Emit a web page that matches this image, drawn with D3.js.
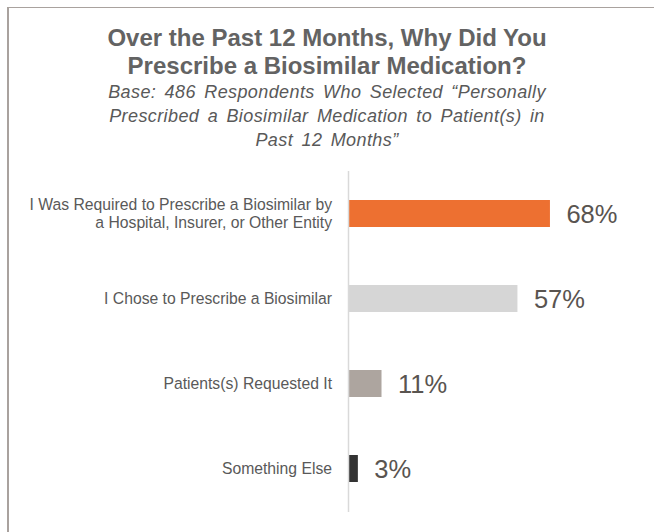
<!DOCTYPE html>
<html>
<head>
<meta charset="utf-8">
<script src="https://cdn.jsdelivr.net/npm/d3@7"></script>
<style>
  html, body { margin: 0; padding: 0; background: #fff; }
  svg { display: block; }
</style>
</head>
<body>
<svg id="chart" width="654" height="532"></svg>
<script>
// Survey answers, in display order
const categories = [
  ["I Was Required to Prescribe a Biosimilar by", "a Hospital, Insurer, or Other Entity"],
  ["I Chose to Prescribe a Biosimilar"],
  ["Patients(s) Requested It"],
  ["Something Else"]
];
const values = [68, 57, 11, 3];
const barColors = ["#ED7031", "#D6D6D6", "#ADA59F", "#333333"];
const titleLines = ["Over the Past 12 Months, Why Did You", "Prescribe a Biosimilar Medication?"];
const subtitleLines = [
  "Base: 486 Respondents Who Selected \u201CPersonally",
  "Prescribed a Biosimilar Medication to Patient(s) in",
  "Past 12 Months\u201D"
];

const svg = d3.select("#chart");
const W = 654, H = 532;

// panel frame: left and top rule only
svg.append("line").attr("x1", 8).attr("x2", 8).attr("y1", 7).attr("y2", H)
  .attr("stroke", "#A9A29E").attr("stroke-width", 2);
svg.append("line").attr("x1", 7).attr("x2", W).attr("y1", 7.5).attr("y2", 7.5)
  .attr("stroke", "#A9A29E").attr("stroke-width", 1);

// title
const cx = 327;
svg.append("g").selectAll("text").data(titleLines).join("text")
  .attr("x", cx).attr("y", (d, i) => 46 + i * 28)
  .attr("text-anchor", "middle")
  .attr("font-family", "Liberation Sans, Arial, sans-serif")
  .attr("font-weight", "bold").attr("font-size", 24)
  .attr("fill", "#636363")
  .text(d => d);

svg.append("g").selectAll("text").data(subtitleLines).join("text")
  .attr("x", cx).attr("y", (d, i) => 98 + i * 24)
  .attr("text-anchor", "middle")
  .attr("font-family", "Liberation Sans, Arial, sans-serif")
  .attr("font-style", "italic").attr("font-size", 18)
  .attr("letter-spacing", 0.4)
  .attr("word-spacing", 3)
  .attr("fill", "#595959")
  .text(d => d);

// scales
const x0 = 348.5;
const x = d3.scaleLinear().domain([0, 100]).range([x0, x0 + 295.5]);
const y = d3.scaleBand().domain(d3.range(values.length)).range([171, 511])
  .paddingInner(58 / 85).paddingOuter(29 / 85);

// bars
svg.append("g").selectAll("rect").data(values).join("rect")
  .attr("x", x(0) + 0.5)
  .attr("y", (d, i) => y(i))
  .attr("width", d => x(d) - x(0))
  .attr("height", y.bandwidth())
  .attr("fill", (d, i) => barColors[i]);

// category axis line
svg.append("line").attr("x1", x0).attr("x2", x0).attr("y1", 171).attr("y2", 512)
  .attr("stroke", "#D9D9D9").attr("stroke-width", 1.5);

// category labels, slightly condensed
const lab = svg.append("g").selectAll("text").data(categories).join("text")
  .attr("transform", "translate(332,0) scale(0.965,1)")
  .attr("text-anchor", "end")
  .attr("font-family", "Liberation Sans, Arial, sans-serif")
  .attr("font-size", 16.3)
  .attr("fill", "#595959");
lab.each(function(lines, i) {
  const c = y(i) + y.bandwidth() / 2;
  const lh = 18;
  const top = c - (lines.length - 1) * lh / 2 + 6;
  d3.select(this).selectAll("tspan").data(lines).join("tspan")
    .attr("x", 0).attr("y", (d, j) => top + j * lh)
    .text(d => d);
});

// value labels
svg.append("g").selectAll("text").data(values).join("text")
  .attr("x", d => x(d) + 17)
  .attr("y", (d, i) => y(i) + y.bandwidth() / 2 + 9)
  .attr("font-family", "Liberation Sans, Arial, sans-serif")
  .attr("font-size", 25.5)
  .attr("fill", "#595450")
  .text(d => d + "%");
</script>
</body>
</html>
